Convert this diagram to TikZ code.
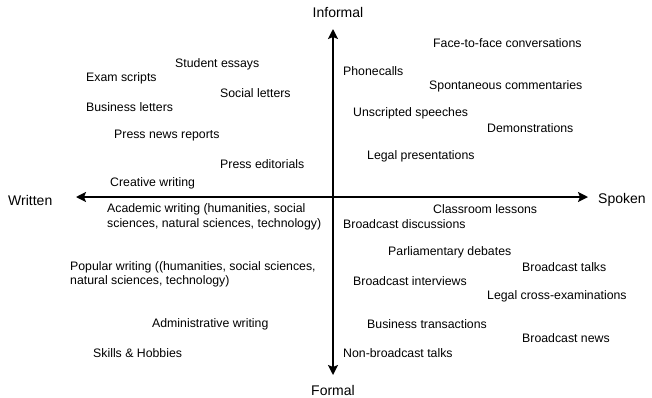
\documentclass[tikz,border=0pt]{standalone}
\usepackage{fontspec}
\setmainfont{Liberation Sans}
\usetikzlibrary{arrows.meta, positioning}

\begin{document}
\begin{tikzpicture}[
        x=1pt, y=-1pt,
        genre/.style={anchor=west, inner sep=0pt, align=left, font=\fontsize{12.3}{14.5}\selectfont},
        axislabel/.style={inner sep=0pt, font=\fontsize{14}{16}\selectfont},
        axis/.style={-{Stealth[length=10pt, width=10pt, inset=2pt]}, line width=1.8pt}
    ]
        \useasboundingbox (0,0) rectangle (652,397);

        % Axis ends
        \coordinate (origin) at (333,197);
        \coordinate (top) at (333,29);
        \coordinate (bottom) at (333,375);
        \coordinate (left) at (76,197);
        \coordinate (right) at (588,197);

        % Axes
        \draw[axis] (origin) -- (top);
        \draw[axis] (origin) -- (bottom);
        \draw[axis] (origin) -- (left);
        \draw[axis] (origin) -- (right);

        % Axis labels
        \node[axislabel] (informal) at (338,12) {Informal};
        \node[axislabel] (formal) at (333,390) {Formal};
        \node[axislabel, anchor=west] (written) at (8,200) {Written};
        \node[axislabel, anchor=west] (spoken) at (598,200) {Spoken};

        % Written, informal
        \node[genre] (essays) at (175,64) {Student essays};
        \node[genre] (exams) at (86,78) {Exam scripts};
        \node[genre] (social) at (220,93) {Social letters};
        \node[genre] (business) at (86,107) {Business letters};
        \node[genre] (pressnews) at (114,136) {Press news reports};
        \node[genre] (editorials) at (220,164) {Press editorials};
        \node[genre] (creative) at (110,183) {Creative writing};

        % Spoken, informal
        \node[genre] (facetoface) at (433,43) {Face-to-face conversations};
        \node[genre] (phone) at (343,71) {Phonecalls};
        \node[genre] (commentaries) at (429,86) {Spontaneous commentaries};
        \node[genre] (unscripted) at (353,113) {Unscripted speeches};
        \node[genre] (demos) at (487,128) {Demonstrations};
        \node[genre] (legalpres) at (367,156) {Legal presentations};

        % Written, formal
        \node[genre] (academic) at (107,217) {Academic writing (humanities, social\\sciences, natural sciences, technology)};
        \node[genre] (popular) at (70,274.5) {Popular writing ((humanities, social sciences,\\natural sciences, technology)};
        \node[genre] (admin) at (152,324) {Administrative writing};
        \node[genre] (skills) at (93,353) {Skills \& Hobbies};

        % Spoken, formal
        \node[genre] (classroom) at (433,209) {Classroom lessons};
        \node[genre] (bdiscuss) at (343,224) {Broadcast discussions};
        \node[genre] (parliament) at (388,252) {Parliamentary debates};
        \node[genre] (btalks) at (522,267) {Broadcast talks};
        \node[genre] (binterviews) at (353,281) {Broadcast interviews};
        \node[genre] (crossexam) at (487,296) {Legal cross-examinations};
        \node[genre] (transactions) at (367,324) {Business transactions};
        \node[genre] (bnews) at (522,338) {Broadcast news};
        \node[genre] (nonbroadcast) at (343,353) {Non-broadcast talks};
    \end{tikzpicture}
\end{document}
